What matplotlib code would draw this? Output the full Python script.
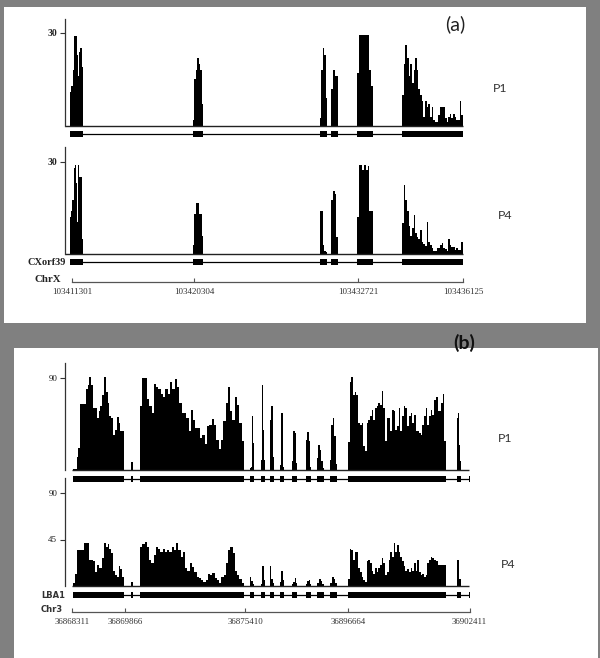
import numpy as np
import matplotlib
matplotlib.use("Agg")
import matplotlib.pyplot as plt
from matplotlib.patches import Rectangle

# ---------------- data ----------------
# Panel (a): CXorf39 on ChrX (exon spans in browser track units)
A_GENE = "CXorf39"
A_CHROM = "ChrX"
A_EXONS = [(70, 83), (193, 203), (320, 327), (331, 338), (357, 373), (402, 463)]
A_P1 = [
    [11, 13, 18, 29, 29, 23, 16, 24, 25, 19],
    [2, 15, 18, 22, 20, 18, 7],
    [2.5, 18, 25, 23, 9],
    [12, 18, 16, 16],
    [17, 29.5, 29.5, 29.5, 29.5, 29.5, 18, 13],
    [10, 20, 26, 22, 16, 20, 14, 18, 22, 18, 12, 10, 8, 3, 8, 6, 7, 3, 6, 2,
     1.4, 1.4, 3.6, 6, 6, 6, 2.5, 1.4, 3, 4, 2.5, 4, 3, 2, 2, 8, 3.6],
]
A_P4 = [
    [12, 14, 17.5, 28, 29, 23, 10.5, 29, 25, 25, 5],
    [3, 13, 16.5, 16.5, 13, 13, 6],
    [14, 14, 3, 1, 0.5],
    [17.5, 20.6, 19.7, 5.7],
    [12, 29, 29, 27.5, 29, 27.5, 28.7, 14, 14],
    [10, 22.5, 17.5, 14, 9, 6, 8.4, 12.6, 7, 5.5, 5, 7.7, 4, 3.3, 2.7, 10.4, 4, 3, 2, 1,
     1, 2, 2, 3, 3.5, 2, 1.5, 1, 5, 3, 2.4, 2.4, 1.3, 2, 1.3, 1.3, 4],
]
A_YTICK = 30
A_COORDS = ["103411301", "103420304", "103432721", "103436125"]

# Panel (b): LBA1 on Chr3
B_GENE = "LBA1"
B_CHROM = "Chr3"
B_EXONS = [(73, 124), (131, 133), (140, 244), (250, 254), (261, 265), (270, 274),
           (280, 284), (292, 297), (306, 311), (317, 324), (330, 337), (348, 446),
           (457, 461), (468.5, 469.5)]
B_P1 = [
    [1, 1, 13, 22, 65, 65, 65, 79, 83, 91, 83, 61, 61, 51, 58, 63, 73, 91, 76, 66,
     53, 51, 34, 39, 52, 46, 38, 38],
    [8, 78, 8],
    [63, 90, 90, 69, 63, 56, 84, 81, 79, 74, 71, 79, 74, 86, 79, 89, 81, 66, 56, 56,
     51, 38, 59, 49, 41, 41, 31, 34, 25, 43, 44, 50, 44, 29, 21, 29, 48, 66, 81, 58,
     49, 71, 64, 46, 28],
    [2, 3, 53, 26],
    [10, 83, 39, 10],
    [49, 63, 13],
    [5, 56, 56, 3],
    [9, 38, 36, 7],
    [29, 37, 28, 3],
    [12, 24, 20, 9, 2],
    [10, 44, 51, 33, 6],
    [27, 86, 91, 73, 76, 73, 46, 44, 46, 23, 19, 46, 49, 53, 59, 49, 61, 63, 66, 64,
     77, 61, 28, 51, 51, 38, 59, 58, 39, 43, 61, 38, 53, 63, 61, 43, 53, 56, 46, 54,
     38, 38, 36, 34, 44, 53, 61, 44, 53, 59, 54, 68, 71, 58, 58, 66, 74, 28],
    [51, 56, 24, 9],
    [20],
]
B_P4 = [
    [3, 12, 35, 35, 35, 35, 42, 42, 42, 25, 25, 24, 14, 20, 17, 17, 27, 42, 38, 41,
     36, 32, 15, 11, 9, 19, 16, 9],
    [4, 32, 4],
    [38, 41, 43, 38, 25, 22, 30, 38, 36, 33, 36, 33, 35, 33, 38, 35, 42, 35, 28, 33,
     17, 15, 22, 18, 14, 9, 8, 6, 4, 6, 12, 11, 13, 8, 6, 3, 9, 11, 22, 35,
     38, 32, 15, 11, 7, 3],
    [9, 5, 2],
    [2, 19, 6],
    [19, 7, 3],
    [4, 15, 6],
    [2, 4, 8, 3],
    [2, 5, 6, 2],
    [3, 7, 5, 2],
    [3, 9, 7, 3],
    [7, 36, 35, 25, 33, 33, 17, 14, 9, 6, 4, 24, 25, 22, 15, 12, 17, 14, 17, 20,
     27, 22, 11, 14, 25, 33, 28, 42, 33, 40, 33, 28, 24, 19, 15, 16, 14, 17, 15, 22,
     15, 25, 14, 11, 12, 9, 11, 22, 25, 28, 27, 25, 24, 20, 20, 20, 20, 20],
    [25, 7],
    [6],
]
B_P1_YTICKS = [90]
B_P4_YTICKS = [45, 90]
B_COORDS = ["36868311", "36869866", "36875410", "36896664", "36902411"]

SAMPLES = ["P1", "P4"]
PANELS = ["(a)", "(b)"]

# ---------------- layout ----------------
W, H = 600, 658
fig = plt.figure(figsize=(W / 100, H / 100), dpi=100)
fig.patch.set_facecolor("#808080")

SERIF = ["Liberation Serif", "DejaVu Serif"]
SANS = ["Lato", "DejaVu Sans"]


def fbox(x0, y0, x1, y1):
    return [x0 / W, 1 - y1 / H, (x1 - x0) / W, (y1 - y0) / H]


def panel_bg(x0, y0, x1, y1):
    fig.add_artist(Rectangle((x0 / W, 1 - y1 / H), (x1 - x0) / W, (y1 - y0) / H,
                             transform=fig.transFigure, facecolor="white",
                             edgecolor="none", zorder=0))


def track(x0, x1, y0, y1, tick_vals, tick_px, exons, cov, base_x0, bold, fam, fs):
    # ymax from the pixel position of the highest tick
    ymax = tick_vals[-1] * (y1 - y0) / (y1 - tick_px)
    ax = fig.add_axes(fbox(x0, y0, x1, y1))
    ax.set_xlim(x0, x1)
    ax.set_ylim(0, ymax)
    ax.patch.set_alpha(0)
    for (s, e), v in zip(exons, cov):
        edges = np.linspace(s, e, len(v) + 1)
        ax.stairs(v, edges, fill=True, facecolor="black", edgecolor="none",
                  linewidth=0)
    ax.hlines(0, base_x0, x1, color="#222222", lw=1.0, clip_on=False)
    for sp in ["top", "right", "bottom"]:
        ax.spines[sp].set_visible(False)
    ax.spines["left"].set_color("#333333")
    ax.spines["left"].set_linewidth(0.9)
    ax.set_xticks([])
    ax.set_yticks(tick_vals)
    ax.set_yticklabels([str(t) for t in tick_vals])
    ax.tick_params(axis="y", direction="out", length=3.5, width=0.8,
                   colors="#333333", labelcolor="#222222", pad=2, labelsize=fs)
    for lbl in ax.get_yticklabels():
        lbl.set_family(fam)
        lbl.set_fontweight("bold" if bold else "normal")
    return ax


def gene(x0, x1, yc, exons):
    ax = fig.add_axes(fbox(x0, yc - 5, x1, yc + 5))
    ax.set_xlim(x0, x1)
    ax.set_ylim(-5, 5)
    ax.axis("off")
    ax.hlines(0, exons[0][0], exons[-1][1], color="black", lw=0.9)
    for s, e in exons:
        ax.add_patch(Rectangle((s, -3.4), e - s, 6.8, facecolor="black",
                               edgecolor="none"))


def coord(x0, x1, y, pos, labels, fs, pad):
    ax = fig.add_axes(fbox(x0, y - 10, x1, y))
    ax.set_xlim(x0, x1)
    ax.patch.set_alpha(0)
    for sp in ["top", "right", "left"]:
        ax.spines[sp].set_visible(False)
    ax.spines["bottom"].set_bounds(pos[0], pos[-1])
    ax.spines["bottom"].set_color("#555555")
    ax.spines["bottom"].set_linewidth(0.9)
    ax.set_yticks([])
    ax.set_xticks(pos)
    ax.set_xticklabels(labels)
    ax.tick_params(axis="x", direction="in", length=3, width=0.8,
                   colors="#555555", labelcolor="#333333", pad=pad, labelsize=fs)
    for lbl in ax.get_xticklabels():
        lbl.set_family(SERIF)


# ---- panel (a) ----
panel_bg(4, 7, 586, 323)
track(65, 463, 19, 126, [A_YTICK], 33, A_EXONS, A_P1, 65, True, SERIF, 7)
gene(65, 463, 134, A_EXONS)
track(65, 463, 147, 254, [A_YTICK], 162, A_EXONS, A_P4, 65, True, SERIF, 7)
gene(65, 463, 262, A_EXONS)
a_pos = [A_EXONS[0][0] + 2, A_EXONS[1][0] + 1, A_EXONS[4][0] + 1, A_EXONS[-1][1]]
coord(65, 470, 282, a_pos, A_COORDS, 6.5, 4.5)
fig.text(66 / W, 1 - 262 / H, A_GENE, ha="right", va="center", fontsize=7.5,
         fontweight="bold", family=SERIF, color="#222222")
fig.text(61 / W, 1 - 279 / H, A_CHROM, ha="right", va="center", fontsize=7.8,
         fontweight="bold", family=SERIF, color="#222222")
fig.text(500 / W, 1 - 88 / H, SAMPLES[0], ha="center", va="center", fontsize=8.8,
         family=SANS, color="#333333")
fig.text(505 / W, 1 - 216 / H, SAMPLES[1], ha="center", va="center", fontsize=8.8,
         family=SANS, color="#333333")
fig.text(455 / W, 1 - 24 / H, PANELS[0], ha="center", va="center", fontsize=14,
         family=SANS, color="#222222")

# ---- panel (b) ----
panel_bg(14, 348, 598, 658)
track(65, 469, 363, 470, B_P1_YTICKS, 378, B_EXONS, B_P1, 72, False, SERIF, 6.5)
gene(65, 470, 479, B_EXONS)
track(65, 469, 478, 586, B_P4_YTICKS, 493, B_EXONS, B_P4, 72, False, SERIF, 6.5)
gene(65, 470, 595, B_EXONS)
b_pos = [B_EXONS[0][0] - 1, B_EXONS[0][1] + 1, B_EXONS[2][1] + 1, B_EXONS[11][0],
         B_EXONS[-1][1]]
coord(65, 475, 612, b_pos, B_COORDS, 6.4, 4.5)
fig.text(65 / W, 1 - 595 / H, B_GENE, ha="right", va="center", fontsize=6,
         fontweight="bold", family=["DejaVu Sans"], color="#333333")
fig.text(63 / W, 1 - 610 / H, B_CHROM, ha="right", va="center", fontsize=6,
         fontweight="bold", family=["DejaVu Sans"], color="#333333")
fig.text(505 / W, 1 - 438 / H, SAMPLES[0], ha="center", va="center", fontsize=8.8,
         family=SANS, color="#333333")
fig.text(508 / W, 1 - 565 / H, SAMPLES[1], ha="center", va="center", fontsize=8.8,
         family=SANS, color="#333333")
fig.text(464 / W, 1 - 343 / H, PANELS[1], ha="center", va="center", fontsize=14,
         fontweight="bold", family=SANS, color="#111111")

fig.savefig("out.png", dpi=100, facecolor=fig.get_facecolor())
